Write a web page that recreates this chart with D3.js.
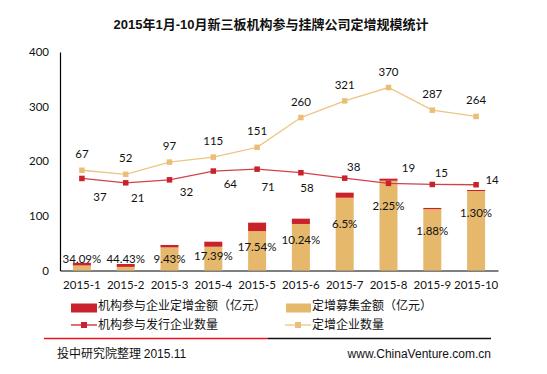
<!DOCTYPE html>
<html lang="zh">
<head>
<meta charset="UTF-8">
<title>2015年1月-10月新三板机构参与挂牌公司定增规模统计</title>
<script src="https://d3js.org/d3.v7.min.js"></script>
<style>
  body { margin: 0; background: #fff; }
  text { font-family: "Lato", "Noto Sans CJK SC", sans-serif; fill: #111; }
  .cjk { font-family: "Noto Sans CJK SC", sans-serif; }
  .title { font-family: "Liberation Sans", "Noto Sans CJK SC", sans-serif; font-weight: bold; font-size: 13px; }
  .num { font-size: 11.5px; }
</style>
</head>
<body>
<script>
  // data
  const months = ["2015-1", "2015-2", "2015-3", "2015-4", "2015-5", "2015-6", "2015-7", "2015-8", "2015-9", "2015-10"];
  const raisedAmount = [9.2, 6.6, 42.3, 43.5, 72.2, 85.2, 133.2, 164.3, 112.3, 145.5];   // 定增募集金额（亿元）
  const instAmount = [4.8, 5.3, 4.4, 9.2, 15.4, 9.7, 9.3, 3.8, 2.2, 1.9];               // 机构参与企业定增金额（亿元）
  const instShare = ["34.09%", "44.43%", "9.43%", "17.39%", "17.54%", "10.24%", "6.5%", "2.25%", "1.88%", "1.30%"];
  const issuerCount = [67, 52, 97, 115, 151, 260, 321, 370, 287, 264];                 // 定增企业数量
  const instIssuerCount = [37, 21, 32, 64, 71, 58, 38, 19, 15, 14];                    // 机构参与发行企业数量
  const yTicks = [0, 100, 200, 300, 400];

  // label placement (layout only)
  const shareLabelAt = [22, 22, 22, 26.5, 42.5, 55, 86, 118, 72, 105];
  const instLabelShift = [[18, 19], [12, 15], [17, 12], [17, 13], [11, 18], [6, 15], [9, -11], [20, -15], [9, -11], [16, -5]];

  const width = 547, height = 374;
  const plot = { left: 60, right: 498, top: 52, bottom: 270.5 };

  const svg = d3.select("body").append("svg")
    .attr("width", width)
    .attr("height", height);

  svg.append("text")
    .attr("class", "title")
    .attr("x", 271).attr("y", 28.5)
    .attr("text-anchor", "middle")
    .text("2015年1月-10月新三板机构参与挂牌公司定增规模统计");

  const x = d3.scaleBand().domain(months).range([plot.left, plot.right]).padding(0);
  const y = d3.scaleLinear().domain([0, 400]).range([plot.bottom, plot.top]);
  // hidden secondary axis for the two count lines
  const y2 = d3.scaleLinear().domain([-300, 500]).range([plot.bottom, plot.top]);
  const cx = d => x(d) + x.bandwidth() / 2;
  const barW = 18;

  // axes
  const yAxis = svg.append("g")
    .attr("transform", `translate(${plot.left},0)`)
    .call(d3.axisLeft(y).tickValues(yTicks).tickSize(0).tickPadding(11));
  yAxis.select(".domain").attr("stroke", "#000").attr("stroke-width", 1.2);
  yAxis.selectAll("text").attr("class", "num").style("font-size", "11.5px").attr("fill", "#111");

  const xAxis = svg.append("g")
    .attr("transform", `translate(0,${plot.bottom})`)
    .call(d3.axisBottom(x).tickSize(0).tickPadding(10));
  xAxis.select(".domain").attr("stroke", "#000").attr("stroke-width", 1.2);
  xAxis.selectAll("text").style("font-size", "11.5px").attr("fill", "#111");

  // stacked bars
  const bars = months.map((m, i) => ({ m, a: raisedAmount[i], b: instAmount[i] }));
  svg.selectAll(".bar-raise").data(bars).enter().append("rect")
    .attr("x", d => cx(d.m) - barW / 2)
    .attr("y", d => y(d.a))
    .attr("width", barW)
    .attr("height", d => y(0) - y(d.a))
    .attr("fill", "#E6B86C");
  svg.selectAll(".bar-inst").data(bars).enter().append("rect")
    .attr("x", d => cx(d.m) - barW / 2)
    .attr("y", d => y(d.a + d.b))
    .attr("width", barW)
    .attr("height", d => y(d.a) - y(d.a + d.b))
    .attr("fill", "#C9222B");

  svg.selectAll(".share").data(months).enter().append("text")
    .attr("x", d => cx(d))
    .attr("y", (d, i) => y(shareLabelAt[i]))
    .attr("dy", "0.35em")
    .attr("text-anchor", "middle")
    .style("font-size", "11.5px")
    .text((d, i) => instShare[i]);

  // lines
  function drawLine(vals, color, lineColor, labelPos) {
    const pts = months.map((m, i) => [cx(m), y2(vals[i])]);
    svg.append("path")
      .attr("d", d3.line()(pts))
      .attr("fill", "none")
      .attr("stroke", lineColor)
      .attr("stroke-width", 1.3);
    svg.selectAll(null).data(pts).enter().append("rect")
      .attr("x", p => p[0] - 2.75).attr("y", p => p[1] - 2.75)
      .attr("width", 5.5).attr("height", 5.5)
      .attr("fill", color);
    svg.selectAll(null).data(pts).enter().append("text")
      .attr("x", (p, i) => p[0] + labelPos(i)[0])
      .attr("y", (p, i) => p[1] + labelPos(i)[1])
      .attr("dy", "0.35em")
      .attr("text-anchor", "middle")
      .style("font-size", "11.5px")
      .text((p, i) => vals[i]);
  }
  drawLine(issuerCount, "#EBBE78", "#EDC583", () => [0, -16]);
  drawLine(instIssuerCount, "#C9222B", "#D2424A", i => instLabelShift[i]);

  // legend
  const lg = svg.append("g").attr("class", "cjk");
  lg.append("rect").attr("x", 71).attr("y", 303.5).attr("width", 26).attr("height", 9).attr("fill", "#C9222B");
  lg.append("text").attr("class", "cjk").attr("x", 98).attr("y", 306).attr("dy", "0.35em").style("font-size", "12px")
    .text("机构参与企业定增金额（亿元）");
  lg.append("rect").attr("x", 286).attr("y", 303.5).attr("width", 25).attr("height", 9).attr("fill", "#E6B86C");
  lg.append("text").attr("class", "cjk").attr("x", 312).attr("y", 306).attr("dy", "0.35em").style("font-size", "12px")
    .text("定增募集金额（亿元）");

  lg.append("line").attr("x1", 71).attr("x2", 97).attr("y1", 325).attr("y2", 325).attr("stroke", "#C9222B").attr("stroke-width", 1.3);
  lg.append("rect").attr("x", 81).attr("y", 322).attr("width", 6).attr("height", 6).attr("fill", "#C9222B");
  lg.append("text").attr("class", "cjk").attr("x", 98).attr("y", 325).attr("dy", "0.35em").style("font-size", "12px")
    .text("机构参与发行企业数量");
  lg.append("line").attr("x1", 285).attr("x2", 311).attr("y1", 325).attr("y2", 325).attr("stroke", "#EDC583").attr("stroke-width", 1.3);
  lg.append("rect").attr("x", 295).attr("y", 322).attr("width", 6).attr("height", 6).attr("fill", "#EBBE78");
  lg.append("text").attr("class", "cjk").attr("x", 312).attr("y", 325).attr("dy", "0.35em").style("font-size", "12px")
    .text("定增企业数量");

  // footer
  svg.append("line").attr("x1", 44).attr("x2", 268).attr("y1", 338.5).attr("y2", 338.5).attr("stroke", "#E8141B").attr("stroke-width", 1.5);
  svg.append("line").attr("x1", 268).attr("x2", 491).attr("y1", 338.5).attr("y2", 338.5).attr("stroke", "#111").attr("stroke-width", 1.5);

  const foot = svg.append("text").attr("x", 57).attr("y", 354).attr("dy", "0.35em").style("font-size", "12px");
  foot.append("tspan").attr("class", "cjk").text("投中研究院整理 ");
  foot.append("tspan").style("font-family", "Liberation Sans").text("2015.11");

  svg.append("text")
    .attr("x", 491).attr("y", 354).attr("dy", "0.35em")
    .attr("text-anchor", "end")
    .style("font-family", "Liberation Sans")
    .style("font-size", "12px")
    .attr("fill", "#1E2740")
    .text("www.ChinaVenture.com.cn");
</script>
</body>
</html>
